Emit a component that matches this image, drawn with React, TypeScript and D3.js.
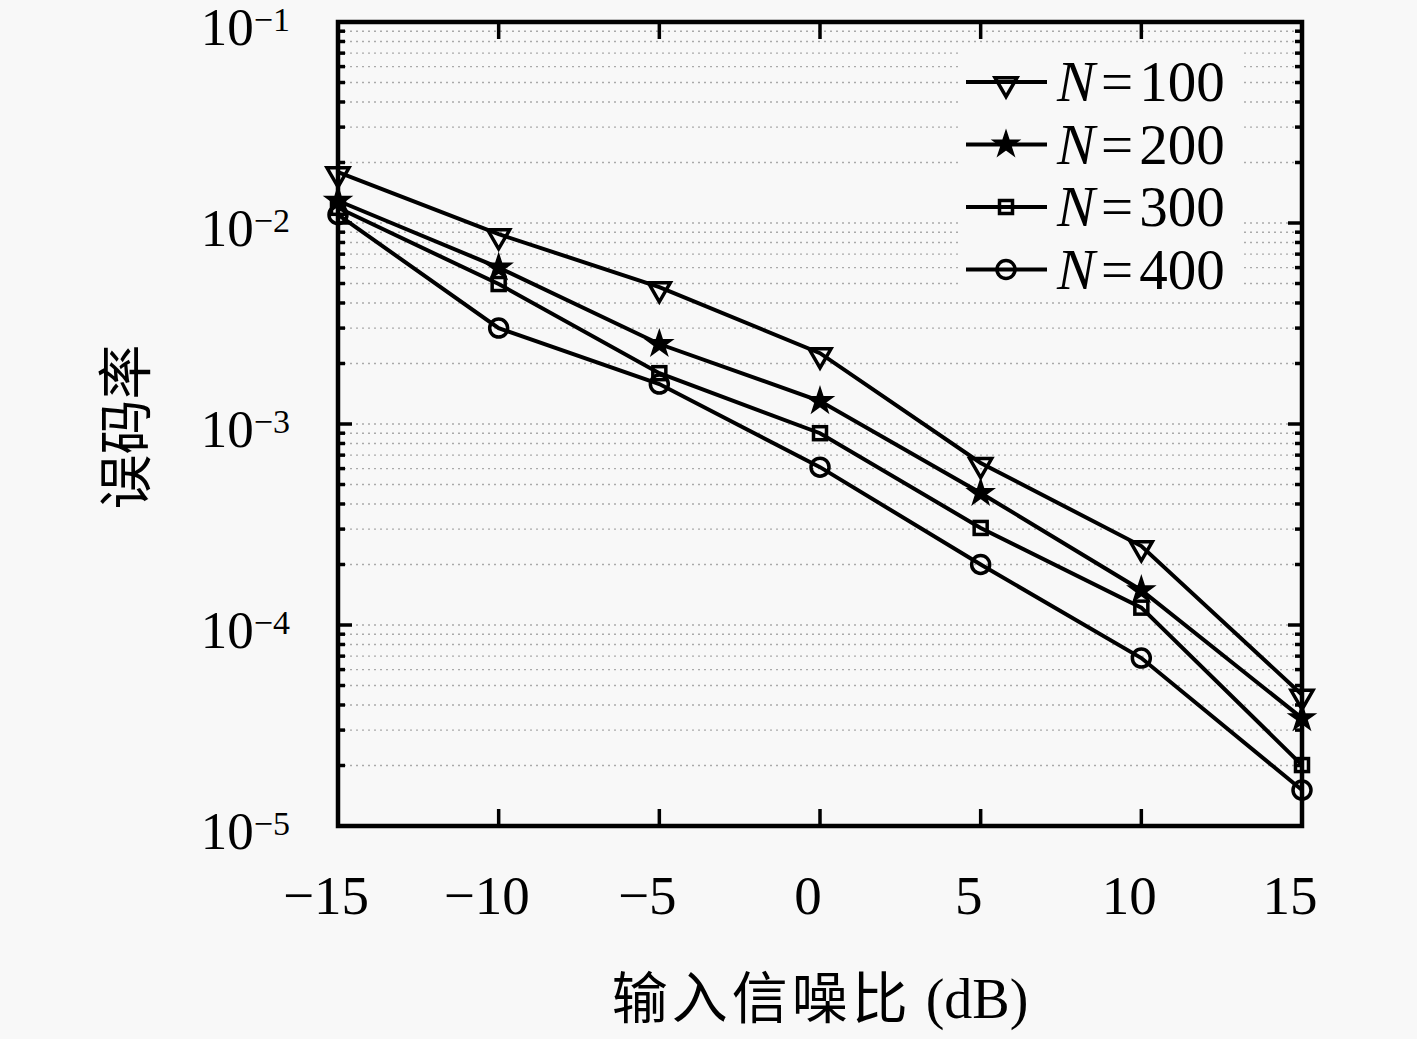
import * as d3 from "d3";

const snr = [-15, -10, -5, 0, 5, 10, 15];
const ber100 = [0.0179, 0.0088, 0.0048, 0.00225, 0.00064, 0.000247, 4.5e-5];
const ber200 = [0.0129, 0.006, 0.0025, 0.0013, 0.000454, 0.000149, 3.44e-5];
const ber300 = [0.0119, 0.00497, 0.00179, 0.0009, 0.000304, 0.000122, 2.01e-5];
const ber400 = [0.011, 0.003, 0.00158, 0.00061, 0.0002, 6.85e-5, 1.51e-5];
const seriesNames = ["100", "200", "300", "400"];
const xTicks = [-15, -10, -5, 0, 5, 10, 15];
const yExps = [-1, -2, -3, -4, -5];

const width = 1417;
const height = 1039;
const marginLeft = 338;
const marginRight = 115;
const marginTop = 22;
const marginBottom = 213;
const bg = "#f8f8f8";
const serif = "'Liberation Serif', 'DejaVu Serif', serif";
const cjk = "'Noto Sans CJK SC', sans-serif";

const Marker: React.FC<{ kind: number; x: number; y: number }> = ({ kind, x, y }) => {
    if (kind === 0) {
        const p = d3.symbol(d3.symbolTriangle, 210)() ?? "";
        return <path d={p} transform={`translate(${x},${y + 2}) rotate(180)`} fill="none" stroke="black" strokeWidth={3.5} />;
    }
    if (kind === 1) {
        const p = d3.symbol(d3.symbolStar, 210)() ?? "";
        return <path d={p} transform={`translate(${x},${y})`} fill="black" stroke="black" strokeWidth={1.5} />;
    }
    if (kind === 2) {
        return <rect x={x - 6.5} y={y - 6.5} width={13} height={13} fill="none" stroke="black" strokeWidth={3.5} />;
    }
    return <circle cx={x} cy={y} r={9} fill="none" stroke="black" strokeWidth={3.5} />;
};

export default function App() {
    const x = d3.scaleLinear([-15, 15], [marginLeft, width - marginRight]);
    const y = d3.scaleLog([1e-5, 1e-1], [height - marginBottom, marginTop]);
    const all = [ber100, ber200, ber300, ber400];
    const line = d3.line<number>((_, i) => x(snr[i]), (d) => y(d));
    const minor: number[] = [];
    for (let e = -5; e < -1; e++) {
        for (let m = 1; m <= 9; m++) minor.push(m * Math.pow(10, e));
    }
    const x0 = x(-15);
    const x1 = x(15);
    const y0 = y(1e-5);
    const y1 = y(1e-1);
    const leg = { x: 962, y: 50, w: 282, h: 248 };
    return (
        <svg width={width} height={height} style={{ position: "absolute", left: 0, top: 0 }}>
            <rect width={width} height={height} fill={bg} />
            {/* grid */}
            <g stroke="#aaa" strokeWidth={1.4} strokeDasharray="2,4">
                {minor.concat([1e-1]).map((v, i) => (
                    <line key={i} x1={x0} x2={x1} y1={y(v)} y2={y(v)} />
                ))}
            </g>
            {/* ticks */}
            <g stroke="black" strokeWidth={3.5}>
                {minor.map((v, i) => {
                    const len = Math.abs(Math.log10(v) - Math.round(Math.log10(v))) < 1e-9 ? 14 : 7;
                    return (
                        <g key={i}>
                            <line x1={x0} x2={x0 + len} y1={y(v)} y2={y(v)} />
                            <line x1={x1} x2={x1 - len} y1={y(v)} y2={y(v)} />
                        </g>
                    );
                })}
                {xTicks.map((t) => (
                    <g key={t}>
                        <line x1={x(t)} x2={x(t)} y1={y0} y2={y0 - 17} />
                        <line x1={x(t)} x2={x(t)} y1={y1} y2={y1 + 17} />
                    </g>
                ))}
            </g>
            {/* series */}
            {all.map((s, k) => (
                <g key={k}>
                    <path d={line(s) ?? undefined} fill="none" stroke="black" strokeWidth={4} />
                    {s.map((v, i) => (
                        <Marker key={i} kind={k} x={x(snr[i])} y={y(v)} />
                    ))}
                </g>
            ))}
            {/* frame */}
            <rect x={x0} y={y1} width={x1 - x0} height={y0 - y1} fill="none" stroke="black" strokeWidth={4.5} />
            {/* legend */}
            <rect x={leg.x} y={leg.y} width={leg.w} height={leg.h} fill={bg} />
            {seriesNames.map((n, k) => {
                const ly = 82 + k * 62.5;
                return (
                    <g key={n}>
                        <line x1={966} x2={1047} y1={ly} y2={ly} stroke="black" strokeWidth={4} />
                        <Marker kind={k} x={1006} y={ly} />
                        <text x={1057} y={ly + 19} fontFamily={serif} fontSize={57}>
                            <tspan fontStyle="italic">N</tspan>
                            <tspan dx={6}>=</tspan>
                            <tspan dx={6}>{n}</tspan>
                        </text>
                    </g>
                );
            })}
            {/* x tick labels */}
            {xTicks.map((t) => (
                <text key={t} x={x(t) - 12} y={914} textAnchor="middle" fontFamily={serif} fontSize={55}>
                    {t < 0 ? "\u2212" + Math.abs(t) : String(t)}
                </text>
            ))}
            {/* y tick labels */}
            {yExps.map((e) => (
                <text key={e} x={290} y={y(Math.pow(10, e)) + 23} textAnchor="end" fontFamily={serif} fontSize={53}>
                    <tspan>10</tspan>
                    <tspan dy={-14} fontSize={34}>{"\u2212" + Math.abs(e)}</tspan>
                </text>
            ))}
            {/* axis titles */}
            <text x={820} y={1018} textAnchor="middle" fontSize={56}>
                <tspan fontFamily={cjk} letterSpacing={4}>输入信噪比</tspan>
                <tspan fontFamily={serif}> (dB)</tspan>
            </text>
            <text transform="translate(145,427) rotate(-90)" textAnchor="middle" fontFamily={cjk} fontSize={55}>
                误码率
            </text>
        </svg>
    );
}
